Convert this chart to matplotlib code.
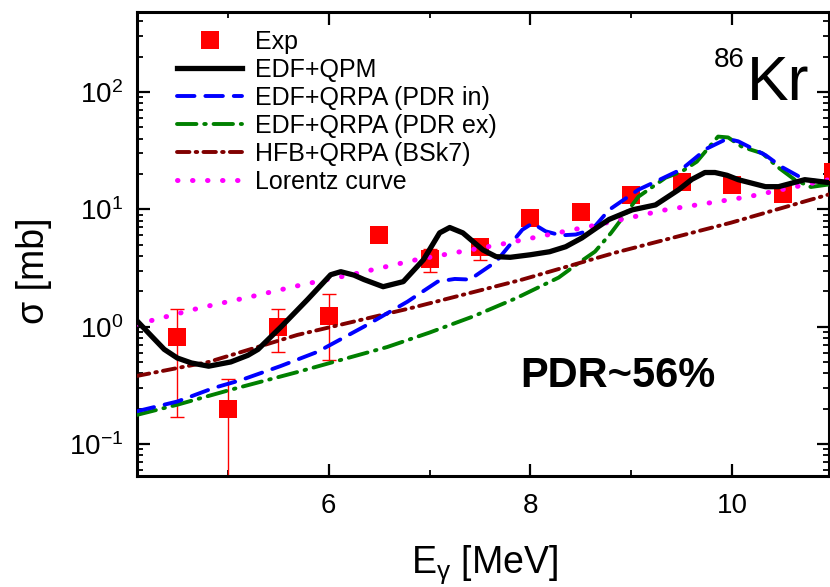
import matplotlib
matplotlib.use("Agg")
import matplotlib.pyplot as plt
from matplotlib.ticker import MultipleLocator, LogLocator, NullFormatter

plt.rcParams["font.family"] = ["Liberation Sans", "DejaVu Sans"]
plt.rcParams["mathtext.fontset"] = "custom"
plt.rcParams["mathtext.rm"] = "Liberation Sans"
plt.rcParams["mathtext.it"] = "Liberation Sans:italic"
plt.rcParams["mathtext.bf"] = "Liberation Sans:bold"

# experimental points (E in MeV, sigma in mb) with asymmetric error limits
exp_e = [4.5, 5.0, 5.5, 6.0, 6.5, 7.0, 7.5, 8.0, 8.5, 9.0, 9.5, 10.0, 10.5, 11.0]
exp_s = [0.82, 0.20, 1.0, 1.24, 6.1, 3.8, 4.8, 8.5, 9.4, 13.3, 17.2, 16.1, 13.5, 21.0]
exp_lo = [0.17, 0.01, 0.61, 0.52, 6.1, 2.95, 3.7, 8.5, 9.4, 13.3, 17.2, 16.1, 13.5, 21.0]
exp_hi = [1.40, 0.36, 1.42, 1.91, 6.1, 4.6, 5.3, 8.5, 9.4, 13.3, 17.2, 16.1, 13.5, 21.0]

# EDF+QPM
qpm_e = [4.10, 4.25, 4.37, 4.50, 4.64, 4.81, 5.03, 5.20, 5.30, 5.53, 5.79, 6.02,
         6.12, 6.25, 6.35, 6.54, 6.74, 6.94, 7.10, 7.20, 7.33, 7.53, 7.66, 7.80,
         8.00, 8.19, 8.35, 8.51, 8.65, 8.78, 9.01, 9.24, 9.47, 9.60, 9.73, 9.83,
         9.95, 10.06, 10.33, 10.46, 10.60, 10.72, 10.96]
qpm_s = [1.12, 0.82, 0.64, 0.54, 0.49, 0.46, 0.50, 0.57, 0.64, 1.0, 1.70, 2.77,
         2.94, 2.75, 2.52, 2.19, 2.42, 3.72, 6.3, 7.0, 6.3, 4.5, 3.95, 3.9,
         4.1, 4.35, 4.8, 5.7, 6.9, 8.2, 9.9, 10.9, 14.7, 18.0, 20.6, 20.6,
         19.5, 17.9, 15.6, 15.6, 16.8, 17.9, 16.9]

# EDF+QRPA (PDR in)
pin_e = [4.10, 4.50, 4.86, 5.13, 5.52, 5.89, 6.35, 6.78, 7.08, 7.25, 7.40, 7.66,
         7.92, 8.02, 8.15, 8.30, 8.45, 8.61, 8.78, 9.07, 9.24, 9.50, 9.75, 9.95,
         10.06, 10.33, 10.49, 10.72, 10.96]
pin_s = [0.19, 0.23, 0.30, 0.35, 0.46, 0.61, 1.0, 1.63, 2.42, 2.55, 2.52, 3.58,
         6.7, 7.6, 6.5, 6.0, 6.1, 6.7, 9.9, 14.7, 17.2, 22.0, 33.0, 40.0,
         38.0, 29.0, 23.0, 17.9, 17.0]

# EDF+QRPA (PDR ex)
pex_e = [4.10, 4.50, 5.03, 5.69, 6.12, 6.58, 7.00, 7.43, 7.86, 8.28, 8.48, 8.64,
         8.80, 9.07, 9.34, 9.50, 9.65, 9.86, 9.96, 10.10, 10.30, 10.45, 10.62,
         10.78, 10.96]
pex_s = [0.177, 0.216, 0.29, 0.41, 0.52, 0.67, 0.89, 1.22, 1.75, 2.62, 3.5, 4.36,
         6.3, 12.8, 18.6, 21.0, 25.5, 41.7, 41.0, 34.0, 30.0, 23.0, 17.9,
         15.5, 16.3]

# HFB+QRPA (BSk7)
hfb_e = [4.10, 4.81, 5.69, 6.83, 7.92, 8.84, 9.99, 10.96]
hfb_s = [0.38, 0.50, 0.85, 1.45, 2.52, 4.27, 7.7, 13.4]

# Lorentz curve
lor_e = [4.10, 4.16, 4.73, 5.23, 5.74, 6.22, 6.87, 7.69, 8.67, 9.34, 10.16, 10.96]
lor_s = [1.05, 1.08, 1.45, 1.80, 2.28, 2.77, 3.72, 5.0, 7.4, 9.9, 12.8, 17.9]

fig = plt.figure(figsize=(8.3, 5.87), dpi=100)
ax = fig.add_axes([137 / 830, 111 / 587, 692 / 830, 464 / 587])

err = [[s - lo for s, lo in zip(exp_s, exp_lo)], [hi - s for s, hi in zip(exp_s, exp_hi)]]
ax.errorbar(exp_e, exp_s, yerr=err, fmt="none", ecolor="red", elinewidth=1.0,
            capsize=5, capthick=1.0, zorder=2)
ax.plot(exp_e, exp_s, "s", color="red", markersize=13.5, markeredgewidth=0,
        label="Exp", zorder=3, clip_on=False)

ax.plot(qpm_e, qpm_s, color="black", lw=3.8, label="EDF+QPM", zorder=6,
        solid_joinstyle="round")
ax.plot(pin_e, pin_s, color="#0000ff", lw=2.8, dashes=(4.5, 2.8),
        dash_capstyle="round", label="EDF+QRPA (PDR in)", zorder=5)
ax.plot(pex_e, pex_s, color="#008000", lw=2.8, dashes=(5, 2, 0.4, 2),
        dash_capstyle="round", label="EDF+QRPA (PDR ex)", zorder=4)
ax.plot(hfb_e, hfb_s, color="#800000", lw=2.8, dashes=(3.2, 1.6, 0.4, 1.6),
        dash_capstyle="round", label="HFB+QRPA (BSk7)", zorder=4)
ax.plot(lor_e, lor_s, color="#ff00ff", lw=3.6, dashes=(0.1, 2.9),
        dash_capstyle="round", label="Lorentz curve", zorder=5)

ax.set_yscale("log")
ax.set_xlim(4.1, 10.96)
ax.set_ylim(0.0533, 481)

ax.xaxis.set_major_locator(MultipleLocator(2))
ax.xaxis.set_minor_locator(MultipleLocator(1))
ax.yaxis.set_major_locator(LogLocator(base=10, numticks=10))
ax.yaxis.set_minor_locator(LogLocator(base=10, subs=range(2, 10), numticks=20))
ax.yaxis.set_minor_formatter(NullFormatter())

ax.tick_params(which="both", direction="in", top=True, right=True)
ax.tick_params(which="major", length=9, width=1.6, labelsize=20)
ax.tick_params(which="minor", length=4.5, width=1.3)
ax.tick_params(axis="x", which="major", pad=12)
ax.tick_params(axis="y", which="major", pad=10)
for sp in ax.spines.values():
    sp.set_linewidth(2.2)

ax.set_xlabel(r"E$_{\mathrm{\gamma}}$ [MeV]", fontsize=27)
ax.set_ylabel("σ [mb]", fontsize=27)
ax.xaxis.set_label_coords(0.503, -0.145)
ax.yaxis.set_label_coords(-0.123, 0.442)

ax.legend(loc="upper left", bbox_to_anchor=(0.058, 0.962), frameon=False,
          fontsize=18, handlelength=2.6, handletextpad=0.5, labelspacing=0.16,
          borderpad=0, borderaxespad=0)

ax.text(0.8815, 0.8103, "Kr", transform=ax.transAxes, fontsize=45,
        ha="left", va="baseline")
ax.text(0.8786, 0.8815, "86", transform=ax.transAxes, fontsize=20,
        ha="right", va="baseline")
ax.text(0.5535, 0.1918, "PDR~56%", transform=ax.transAxes, fontsize=30,
        fontweight="bold", ha="left", va="baseline")

fig.savefig("out.png", dpi=100)
